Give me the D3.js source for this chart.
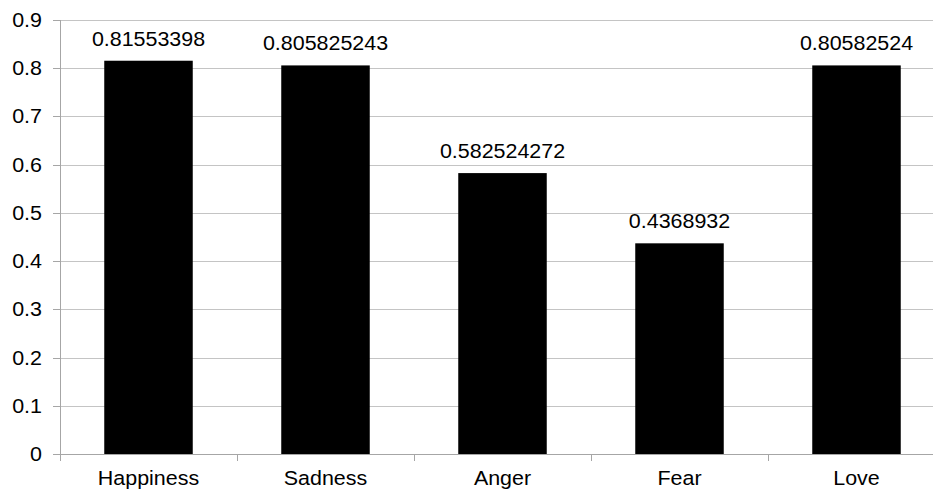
<!DOCTYPE html>
<html>
<head>
<meta charset="utf-8">
<script src="https://cdn.jsdelivr.net/npm/d3@7"></script>
<style>
  html, body { margin: 0; padding: 0; background: #fff; }
  svg { display: block; }
  text { font-family: Arial, "Liberation Sans", sans-serif; fill: #000; }
</style>
</head>
<body>
<svg id="chart" width="933" height="490"></svg>
<script>
// Emotion categories and their scores
const categories = ["Happiness", "Sadness", "Anger", "Fear", "Love"];
const values = [0.81553398, 0.805825243, 0.582524272, 0.4368932, 0.80582524];
const valueLabels = ["0.81553398", "0.805825243", "0.582524272", "0.4368932", "0.80582524"];
const yTicks = [0, 0.1, 0.2, 0.3, 0.4, 0.5, 0.6, 0.7, 0.8, 0.9];
const yTickLabels = ["0", "0.1", "0.2", "0.3", "0.4", "0.5", "0.6", "0.7", "0.8", "0.9"];

const svg = d3.select("#chart");
const plotLeft = 60, plotRight = 945, plotTop = 20, plotBottom = 454;
const fontSize = 19.5, stretch = 1.1;

const x = d3.scaleBand().domain(categories).range([plotLeft, plotRight]).paddingInner(0.5).paddingOuter(0.25);
const xTicks = d3.scaleBand().domain(categories).range([plotLeft, plotRight]);
const y = d3.scaleLinear().domain([0, 0.9]).range([plotBottom, plotTop]);

// horizontal gridlines
svg.append("g").selectAll("line").data(yTicks.slice(1)).join("line")
  .attr("x1", plotLeft).attr("x2", plotRight)
  .attr("y1", d => Math.round(y(d)) + 0.5).attr("y2", d => Math.round(y(d)) + 0.5)
  .attr("stroke", "#c4c4c4").attr("stroke-width", 1);

// bars
svg.append("g").selectAll("rect").data(values).join("rect")
  .attr("x", (d, i) => x(categories[i]))
  .attr("width", x.bandwidth())
  .attr("y", d => y(d))
  .attr("height", d => plotBottom - y(d))
  .attr("fill", "#000");

// axes
const axisColor = "#a6a6a6";
svg.append("line").attr("x1", plotLeft + 0.5).attr("x2", plotLeft + 0.5).attr("y1", plotTop).attr("y2", plotBottom)
  .attr("stroke", axisColor);
svg.append("line").attr("x1", plotLeft).attr("x2", plotRight).attr("y1", plotBottom + 0.5).attr("y2", plotBottom + 0.5)
  .attr("stroke", axisColor);

// y tick marks and labels
svg.append("g").selectAll("line").data(yTicks).join("line")
  .attr("x1", plotLeft - 7).attr("x2", plotLeft)
  .attr("y1", d => Math.round(y(d)) + 0.5).attr("y2", d => Math.round(y(d)) + 0.5)
  .attr("stroke", axisColor);

function stretchedText(sel, ax, ay, anchor) {
  return sel.append("text")
    .attr("transform", `translate(${ax},${ay}) scale(${stretch},1)`)
    .attr("text-anchor", anchor)
    .attr("font-size", fontSize);
}

yTicks.forEach((d, i) => {
  stretchedText(svg, 42, y(d) + 7, "end").text(yTickLabels[i]);
});

// x tick marks between categories
const xTickPos = categories.map(c => xTicks(c)).concat([plotRight]);
svg.append("g").selectAll("line").data(xTickPos).join("line")
  .attr("x1", d => Math.round(d) + 0.5).attr("x2", d => Math.round(d) + 0.5)
  .attr("y1", plotBottom).attr("y2", plotBottom + 7)
  .attr("stroke", axisColor);

// category labels
categories.forEach(c => {
  stretchedText(svg, x(c) + x.bandwidth() / 2, 485, "middle").text(c);
});

// value labels
values.forEach((v, i) => {
  stretchedText(svg, x(categories[i]) + x.bandwidth() / 2, y(v) - 15, "middle").text(valueLabels[i]);
});
</script>
</body>
</html>
